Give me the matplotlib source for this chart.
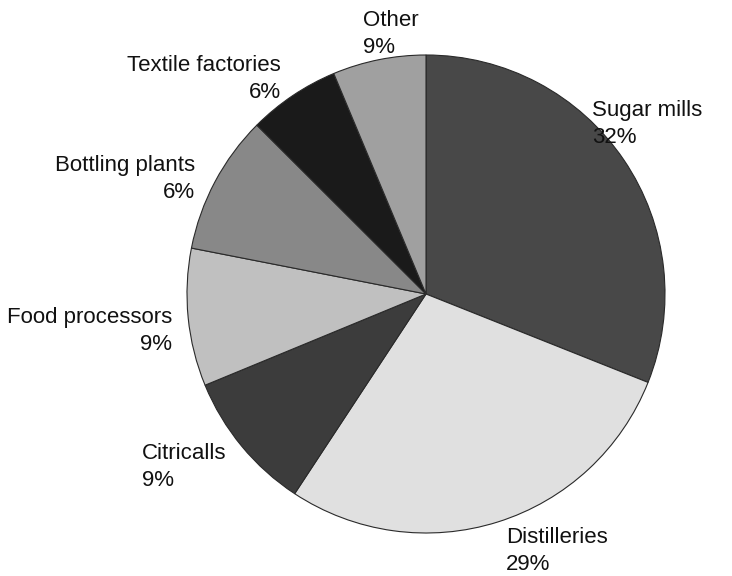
import matplotlib
matplotlib.use('Agg')
import matplotlib.pyplot as plt

plt.rcParams['font.family'] = ['Liberation Sans', 'DejaVu Sans']

categories = ['Sugar mills', 'Distilleries', 'Citricalls', 'Food processors',
              'Bottling plants', 'Textile factories', 'Other']
shares = [31.0, 28.2, 9.5, 9.3, 9.4, 6.2, 6.3]
printed_pct = ['32%', '29%', '9%', '9%', '6%', '6%', '9%']
colors = ['#484848', '#e0e0e0', '#3c3c3c', '#c0c0c0', '#888888', '#1a1a1a', '#a0a0a0']

# label anchors (top edge of text), in pie units, and alignment
label_pos = [(0.695, 0.812), (0.335, -0.976), (-1.188, -0.623), (-1.063, -0.054),
             (-0.967, 0.582), (-0.607, 1.000), (-0.264, 1.188)]
label_ha = ['left', 'left', 'left', 'right', 'right', 'right', 'left']

fig = plt.figure(figsize=(7.32, 5.76), dpi=100)
ax = fig.add_axes([0, 0, 1, 1])

ax.pie(shares, colors=colors, startangle=90, counterclock=False, radius=1,
       wedgeprops={'edgecolor': '#2a2a2a', 'linewidth': 0.8})

for name, pct, (x, y), ha in zip(categories, printed_pct, label_pos, label_ha):
    ax.text(x, y, name + '\n' + pct, ha=ha, va='top', multialignment=ha,
            fontsize=16, color='#111111', linespacing=1.38)

ax.set_xlim(-426 / 239, (732 - 426) / 239)
ax.set_ylim((294 - 576) / 239, 294 / 239)
ax.set_aspect('equal', adjustable='box')
ax.axis('off')

fig.savefig('out.png', dpi=100, facecolor='white')
